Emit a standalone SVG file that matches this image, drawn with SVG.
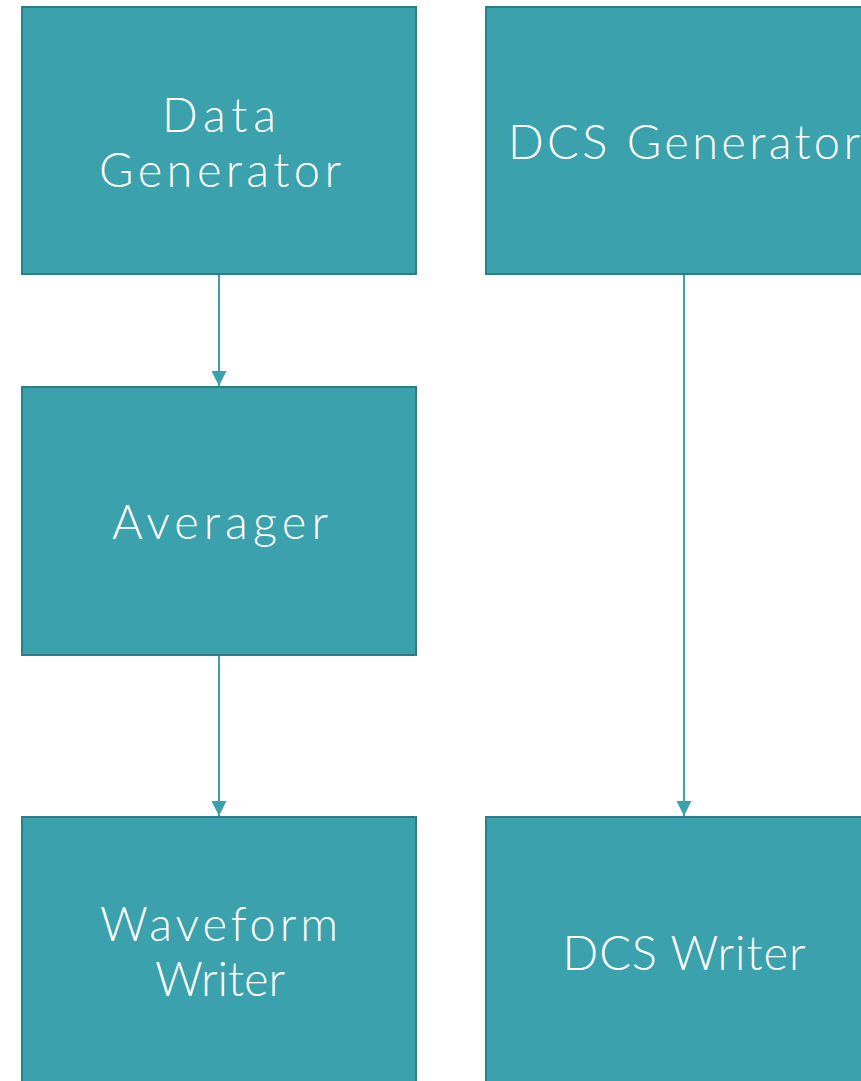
<svg xmlns="http://www.w3.org/2000/svg" width="861" height="1081" viewBox="0 0 861 1081">
  <style>
    .box { fill: #3BA1AD; stroke: #2D7D87; stroke-width: 2; }
    .lbl { fill: #ffffff; font-family: Lato, "Liberation Sans", sans-serif; font-weight: 300; font-size: 47px; text-anchor: middle; }
    .edge { stroke: #3BA1AD; stroke-width: 2; fill: none; marker-end: url(#arrow); }
  </style>
  <defs>
    <marker id="arrow" viewBox="0 0 10 10" refX="10" refY="5" markerWidth="15" markerHeight="15" markerUnits="userSpaceOnUse" orient="auto">
      <path d="M0,0 L10,5 L0,10 Z" fill="#3BA1AD"/>
    </marker>
  </defs>

  <g id="connectors">
    <line class="edge" x1="219" y1="275" x2="219" y2="386"/>
    <line class="edge" x1="219" y1="656" x2="219" y2="816"/>
    <line class="edge" x1="684" y1="275" x2="684" y2="816"/>
  </g>

  <g id="data-generator">
    <rect class="box" x="22" y="7" width="394" height="267"/>
    <text class="lbl" x="219" y="132" textLength="114" lengthAdjust="spacing">Data</text>
    <text class="lbl" x="220" y="187" textLength="242" lengthAdjust="spacing">Generator</text>
  </g>

  <g id="dcs-generator">
    <rect class="box" x="486" y="7" width="396" height="267"/>
    <text class="lbl" x="684" y="159" textLength="352" lengthAdjust="spacing">DCS Generator</text>
  </g>

  <g id="averager">
    <rect class="box" x="22" y="387" width="394" height="268"/>
    <text class="lbl" x="220" y="539" textLength="216" lengthAdjust="spacing">Averager</text>
  </g>

  <g id="waveform-writer">
    <rect class="box" x="22" y="817" width="394" height="280"/>
    <text class="lbl" x="219" y="941" textLength="238" lengthAdjust="spacing">Waveform</text>
    <text class="lbl" x="220" y="996" textLength="130" lengthAdjust="spacing">Writer</text>
  </g>

  <g id="dcs-writer">
    <rect class="box" x="486" y="817" width="396" height="280"/>
    <text class="lbl" x="684" y="970" textLength="243" lengthAdjust="spacing">DCS Writer</text>
  </g>
</svg>
